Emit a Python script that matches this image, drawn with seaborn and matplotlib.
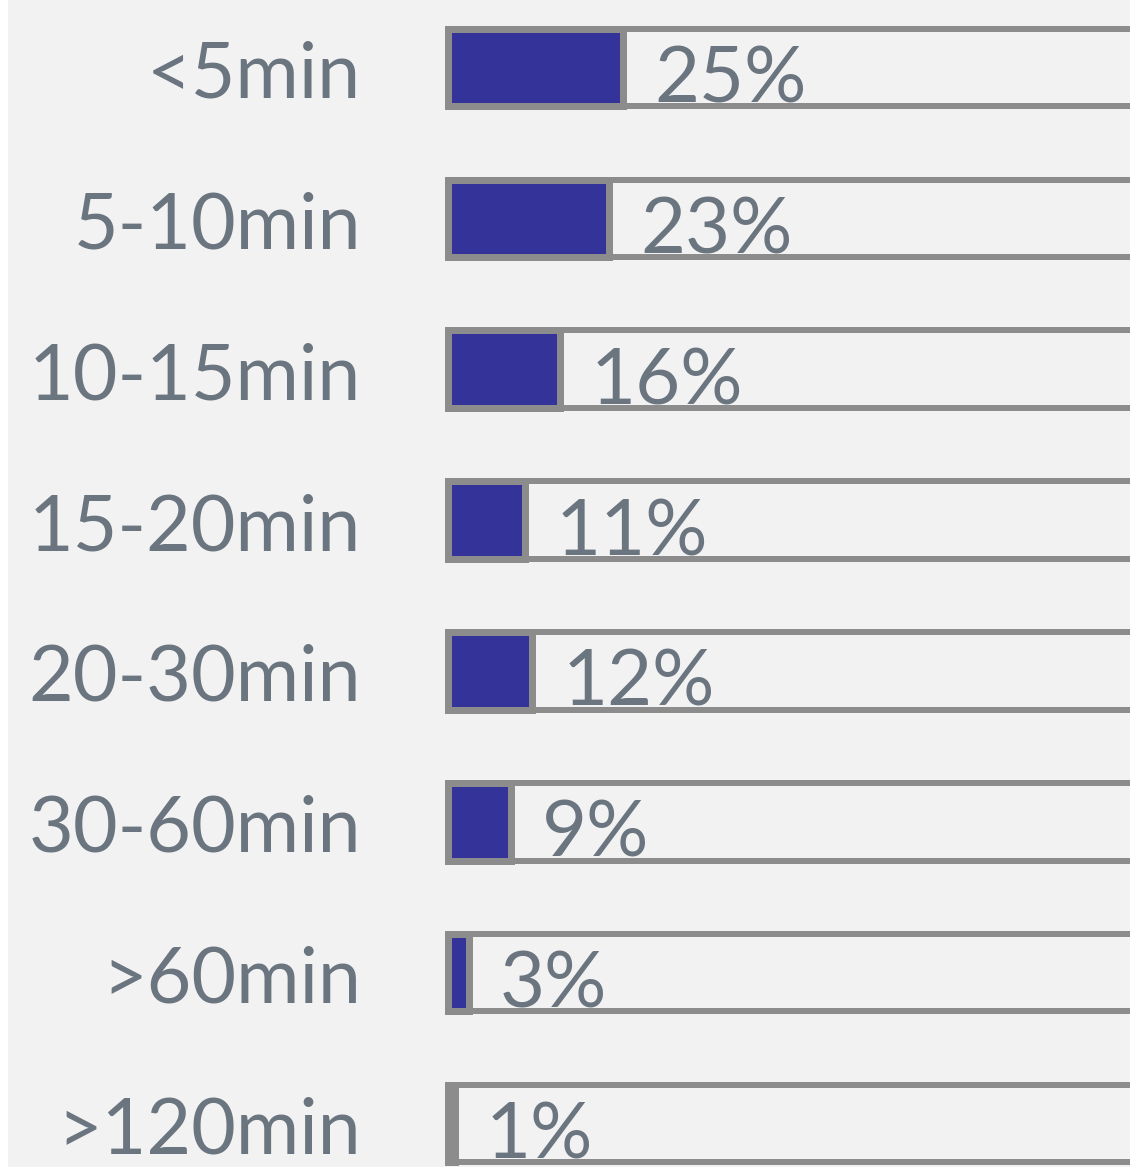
import matplotlib
matplotlib.use("Agg")
import matplotlib.pyplot as plt
import matplotlib.transforms as mtransforms
from matplotlib.patches import Rectangle
import seaborn as sns
import pandas as pd

categories = ["<5min", "5-10min", "10-15min", "15-20min", "20-30min", "30-60min", ">60min", ">120min"]
values = [25, 23, 16, 11, 12, 9, 3, 1]
totals = [100] * len(categories)
labels = [f"{v}%" for v in values]

BG = "#f2f2f2"
BLUE = "#333399"
EDGE = "#8c8c8c"
TXT = "#6b757f"

sns.set_theme(style="white")
plt.rcParams["font.family"] = ["Lato", "DejaVu Sans"]

W, H, DPI = 1130, 1167, 100
fig = plt.figure(figsize=(W / DPI, H / DPI), dpi=DPI, facecolor="white")
fig.patches.append(Rectangle((8 / W, 0), 1, 1, transform=fig.transFigure,
                             facecolor=BG, edgecolor="none", zorder=-10))

x0 = 448
ax = fig.add_axes([x0 / W, 0, 1 - x0 / W, 1])
ax.set_facecolor("none")

df = pd.DataFrame({"cat": categories, "val": values, "tot": totals})
lw = 6 * 72 / DPI
sns.barplot(data=df, x="tot", y="cat", orient="h", color=BG, width=0.514,
            edgecolor=EDGE, linewidth=lw, saturation=1, ax=ax)
sns.barplot(data=df, x="val", y="cat", orient="h", color=BLUE, width=0.514,
            edgecolor=EDGE, linewidth=7 * 72 / DPI, saturation=1, ax=ax)
for p in ax.patches:
    p.set_clip_on(False)
    p.set_joinstyle("miter")

px_per = 7.0
ax.set_xlim(0, (W - x0) / px_per)
row = 150.86
c0 = 67.5
ax.set_ylim((H - c0) / row, -c0 / row)

for i, (v, lab) in enumerate(zip(values, labels)):
    ax.annotate(lab, xy=(v, i), xytext=(31 * 72 / DPI, -35 * 72 / DPI),
                textcoords="offset points", ha="left", va="baseline",
                fontsize=56, color=TXT, annotation_clip=False)

ax.set_xlabel("")
ax.set_ylabel("")
ax.set_xticks([])
ax.tick_params(axis="y", length=0, pad=87 * 72 / DPI, labelsize=55.5, labelcolor=TXT)
off = mtransforms.ScaledTranslation(0, -30 / DPI, fig.dpi_scale_trans)
for t in ax.get_yticklabels():
    t.set_va("baseline")
    t.set_transform(t.get_transform() + off)
for s in ax.spines.values():
    s.set_visible(False)

fig.savefig("out.png", dpi=DPI, facecolor="white")
